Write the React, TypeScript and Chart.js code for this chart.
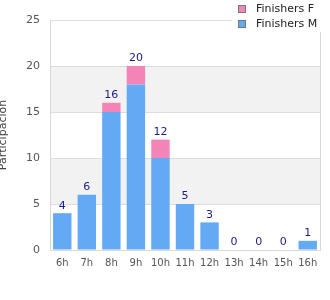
import React, { useEffect, useRef } from "react";
import { Chart, registerables } from "chart.js";

Chart.register(...registerables);

const categories = ["6h", "7h", "8h", "9h", "10h", "11h", "12h", "13h", "14h", "15h", "16h"];
const finishersM = [4, 6, 15, 18, 10, 5, 3, 0, 0, 0, 1];
const finishersF = [0, 0, 1, 2, 2, 0, 0, 0, 0, 0, 0];
const yTicks = [0, 5, 10, 15, 20, 25];

const FONT = "'DejaVu Sans', sans-serif";

const bandsPlugin = {
  id: "bands",
  beforeDraw(chart: any) {
    const { ctx, chartArea, scales } = chart;
    const y = scales.y;
    ctx.save();
    ctx.fillStyle = "#f2f2f2";
    [[5, 10], [15, 20]].forEach(([a, b]) => {
      const y1 = y.getPixelForValue(b);
      const y2 = y.getPixelForValue(a);
      ctx.fillRect(chartArea.left, y1, chartArea.right - chartArea.left, y2 - y1);
    });
    ctx.restore();
  },
  afterDraw(chart: any) {
    const { ctx, chartArea } = chart;
    ctx.save();
    ctx.strokeStyle = "#d9d9d9";
    ctx.lineWidth = 1;
    ctx.beginPath();
    ctx.moveTo(Math.round(chartArea.right) + 0.5, chartArea.top);
    ctx.lineTo(Math.round(chartArea.right) + 0.5, chartArea.bottom);
    ctx.stroke();
    ctx.restore();
  },
};

const totalsPlugin = {
  id: "totals",
  afterDatasetsDraw(chart: any) {
    const { ctx, scales } = chart;
    const meta = chart.getDatasetMeta(0);
    ctx.save();
    ctx.fillStyle = "#1a1a8c";
    ctx.font = "11px " + FONT;
    ctx.textAlign = "center";
    ctx.textBaseline = "bottom";
    categories.forEach((_, i) => {
      const total = finishersM[i] + finishersF[i];
      const x = meta.data[i].x;
      const y = scales.y.getPixelForValue(total);
      ctx.fillText(String(total), x, y - 2);
    });
    ctx.restore();
  },
};

const legendPlugin = {
  id: "customLegend",
  afterDraw(chart: any) {
    const { ctx } = chart;
    ctx.save();
    ctx.fillStyle = "#ffffff";
    ctx.fillRect(232, 0, 98, 32);
    const items = [
      { label: chart.data.datasets[1].label, color: chart.data.datasets[1].backgroundColor, y: 9 },
      { label: chart.data.datasets[0].label, color: chart.data.datasets[0].backgroundColor, y: 24 },
    ];
    ctx.font = "11px " + FONT;
    ctx.textBaseline = "middle";
    ctx.textAlign = "left";
    items.forEach((it) => {
      ctx.fillStyle = it.color;
      ctx.fillRect(238, it.y - 4, 8, 8);
      ctx.strokeStyle = "#777";
      ctx.lineWidth = 1;
      ctx.strokeRect(238.5, it.y - 3.5, 7, 7);
      ctx.fillStyle = "#222";
      ctx.fillText(it.label, 256, it.y);
    });
    ctx.restore();
  },
};

export default function App() {
  const ref = useRef<HTMLCanvasElement>(null);
  useEffect(() => {
    document.body.style.margin = "0";
    const chart = new Chart(ref.current!, {
      type: "bar",
      data: {
        labels: categories,
        datasets: [
          {
            label: "Finishers M",
            data: finishersM,
            backgroundColor: "#63a9f4",
            borderWidth: 0,
            categoryPercentage: 0.75,
            barPercentage: 1,
          },
          {
            label: "Finishers F",
            data: finishersF,
            backgroundColor: "#f284b8",
            borderWidth: 0,
            categoryPercentage: 0.75,
            barPercentage: 1,
          },
        ],
      },
      options: {
        animation: false,
        responsive: false,
        layout: { padding: { top: 20, right: 10, left: 0, bottom: 0 } },
        plugins: { legend: { display: false }, tooltip: { enabled: false } },
        scales: {
          x: {
            stacked: true,
            grid: { display: false, drawTicks: false },
            border: { display: true, color: "#d9d9d9" },
            ticks: { color: "#555", font: { family: FONT, size: 10 }, padding: 7, maxRotation: 0, autoSkip: false },
            afterFit: (s: any) => { s.height = 50; },
          },
          y: {
            stacked: true,
            min: 0,
            max: 25,
            afterBuildTicks: (s: any) => { s.ticks = yTicks.map((v) => ({ value: v })); },
            grid: { color: "#dddddd", drawTicks: false },
            border: { display: true, color: "#d9d9d9" },
            ticks: { color: "#555", font: { family: FONT, size: 11 }, padding: 10 },
            title: { display: true, text: "Participación", color: "#444", font: { family: FONT, size: 11 }, padding: { top: -3, bottom: 0 } },
            afterFit: (s: any) => { s.width = 50; },
          },
        },
      },
      plugins: [bandsPlugin, totalsPlugin, legendPlugin],
    });
    return () => chart.destroy();
  }, []);
  return <canvas ref={ref} width={330} height={300} style={{ display: "block" }} />;
}
